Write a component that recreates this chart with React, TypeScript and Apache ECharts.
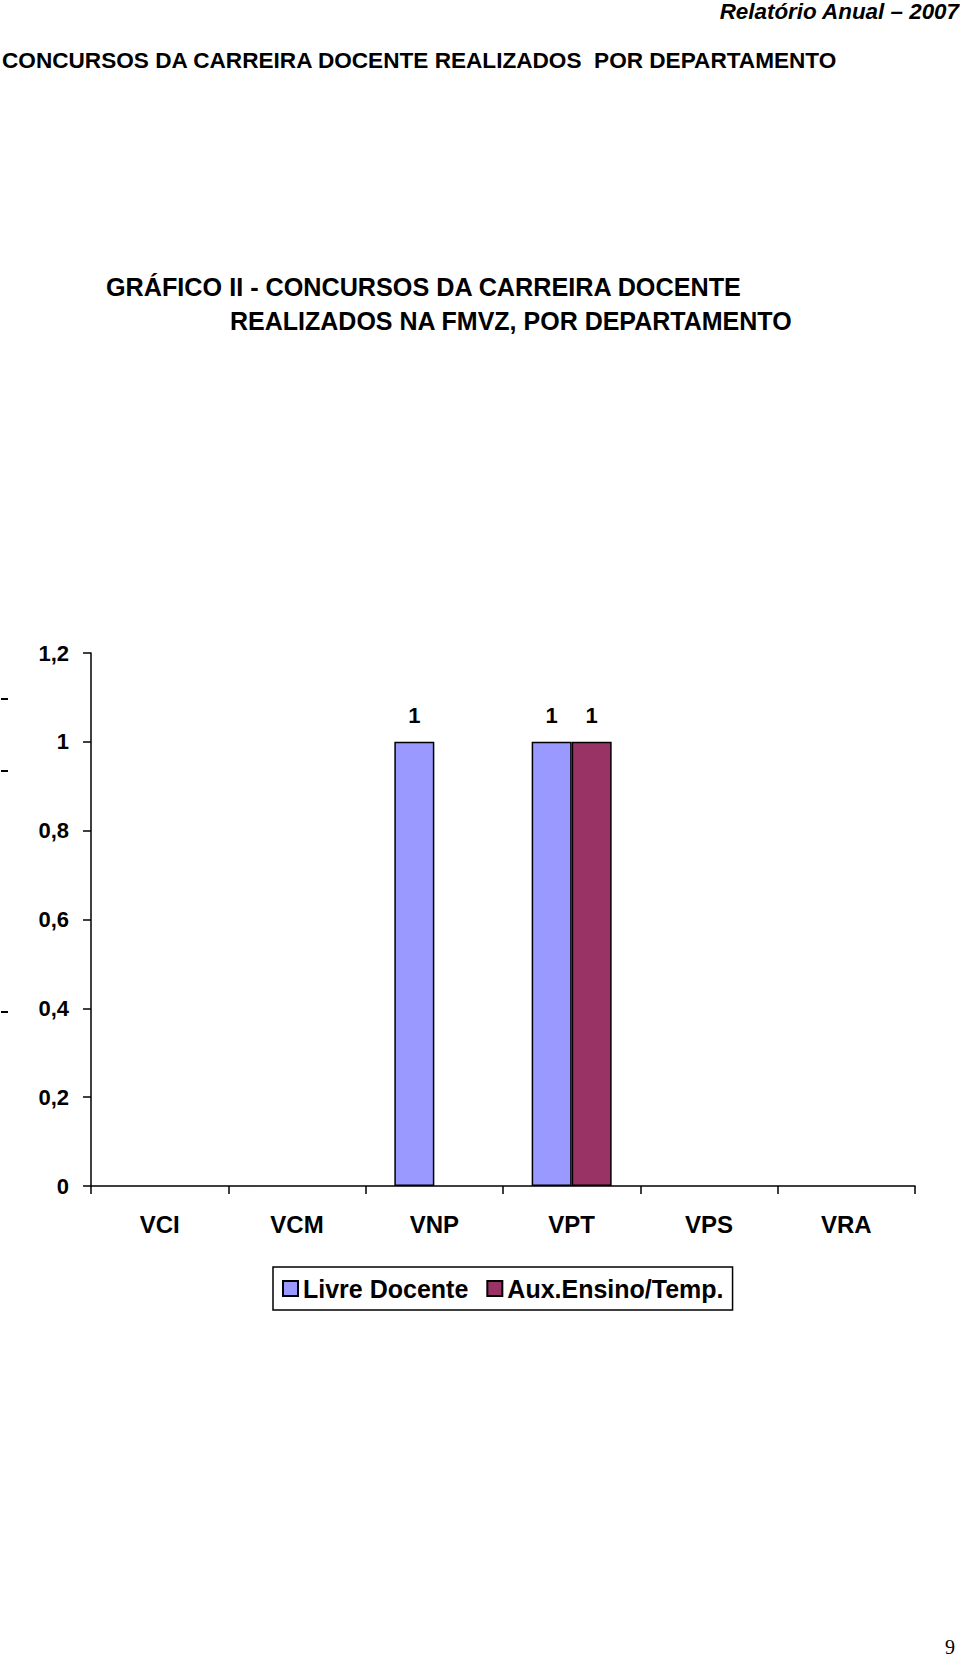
import React, { useEffect, useRef } from "react";
import * as echarts from "echarts";

const categories = ["VCI", "VCM", "VNP", "VPT", "VPS", "VRA"];
const seriesNames = ["Livre Docente", "Aux.Ensino/Temp."];
const livreDocente = [0, 0, 1, 1, 0, 0];
const auxEnsino = [0, 0, 0, 1, 0, 0];
const yMin = 0;
const yMax = 1.2;
const yStep = 0.2;
const pageHeader = "Relatório Anual – 2007";
const heading = "CONCURSOS DA CARREIRA DOCENTE REALIZADOS  POR DEPARTAMENTO";
const titleLines = [
  "GRÁFICO II - CONCURSOS DA CARREIRA DOCENTE",
  "REALIZADOS NA FMVZ, POR DEPARTAMENTO",
];
const pageNumber = "9";

const FONT = "'Liberation Sans', Arial, sans-serif";

export default function App() {
  const ref = useRef<HTMLDivElement>(null);

  useEffect(() => {
    document.body.style.margin = "0";
    if (!ref.current) return;
    const chart = echarts.init(ref.current, null, { renderer: "svg" });
    const fmt = (v: number) => String(Math.round(v * 10) / 10).replace(".", ",");
    const toData = (arr: number[]) =>
      arr.map((v) => ({ value: v, itemStyle: { borderWidth: v ? 1.5 : 0 } }));
    const barLabel = {
      show: true,
      position: "top",
      distance: 15,
      fontFamily: FONT,
      fontWeight: "bold",
      fontSize: 22,
      color: "#000",
      formatter: (p: any) => (p.value ? String(p.value) : ""),
    };
    chart.setOption({
      animation: false,
      backgroundColor: "#ffffff",
      grid: { left: 91, right: 45, top: 653, bottom: 475, containLabel: false },
      legend: {
        left: 273,
        top: 1267,
        orient: "horizontal",
        data: seriesNames,
        icon: "rect",
        itemWidth: 15,
        itemHeight: 15,
        itemGap: 18,
        padding: [9, 9, 9, 9],
        borderColor: "#000",
        borderWidth: 1.5,
        textStyle: { fontFamily: FONT, fontWeight: "bold", fontSize: 25, color: "#000" },
      },
      xAxis: {
        type: "category",
        data: categories,
        axisLine: { lineStyle: { color: "#000", width: 1.5 } },
        axisTick: { show: true, length: 8, lineStyle: { color: "#000", width: 1.5 } },
        axisLabel: { fontFamily: FONT, fontWeight: "bold", fontSize: 24, color: "#000", margin: 26 },
      },
      yAxis: {
        type: "value",
        min: yMin,
        max: yMax,
        interval: yStep,
        splitLine: { show: false },
        axisLine: { show: true, lineStyle: { color: "#000", width: 1.5 } },
        axisTick: { show: true, length: 8, lineStyle: { color: "#000", width: 1.5 } },
        axisLabel: { fontFamily: FONT, fontWeight: "bold", fontSize: 22, color: "#000", margin: 22, formatter: fmt },
      },
      series: [
        {
          name: seriesNames[0],
          type: "bar",
          data: toData(livreDocente),
          barWidth: 40,
          barGap: "0%",
          itemStyle: { color: "#9999FF", borderColor: "#000", borderWidth: 1.5 },
          label: barLabel,
        },
        {
          name: seriesNames[1],
          type: "bar",
          data: toData(auxEnsino),
          barWidth: 40,
          barGap: "0%",
          itemStyle: { color: "#993366", borderColor: "#000", borderWidth: 1.5 },
          label: barLabel,
        },
      ],
      graphic: [
        {
          type: "text",
          x: 959,
          y: 11,
          style: {
            text: pageHeader,
            fontFamily: FONT,
            fontWeight: "bold",
            fontStyle: "italic",
            fontSize: 22.4,
            fill: "#000",
            align: "right",
            verticalAlign: "middle",
          },
        },
        {
          type: "text",
          x: 2,
          y: 60,
          style: {
            text: heading,
            fontFamily: FONT,
            fontWeight: "bold",
            fontSize: 22.6,
            fill: "#000",
            align: "left",
            verticalAlign: "middle",
          },
        },
        {
          type: "text",
          x: 106,
          y: 287,
          style: {
            text: titleLines[0],
            fontFamily: FONT,
            fontWeight: "bold",
            fontSize: 25.2,
            fill: "#000",
            align: "left",
            verticalAlign: "middle",
          },
        },
        {
          type: "text",
          x: 230,
          y: 321,
          style: {
            text: titleLines[1],
            fontFamily: FONT,
            fontWeight: "bold",
            fontSize: 25,
            fill: "#000",
            align: "left",
            verticalAlign: "middle",
          },
        },
        { type: "line", shape: { x1: 1, y1: 699, x2: 8, y2: 699 }, style: { stroke: "#000", lineWidth: 2 } },
        { type: "line", shape: { x1: 1, y1: 771, x2: 8, y2: 771 }, style: { stroke: "#000", lineWidth: 2 } },
        { type: "line", shape: { x1: 1, y1: 1012, x2: 8, y2: 1012 }, style: { stroke: "#000", lineWidth: 2 } },
        {
          type: "text",
          x: 950,
          y: 1647,
          style: {
            text: pageNumber,
            fontFamily: "'Liberation Serif', 'DejaVu Serif', serif",
            fontSize: 20,
            fill: "#000",
            align: "center",
            verticalAlign: "middle",
          },
        },
      ],
    });
    return () => chart.dispose();
  }, []);

  return (
    <div
      ref={ref}
      style={{ position: "absolute", left: 0, top: 0, width: 960, height: 1661, background: "#fff" }}
    />
  );
}
